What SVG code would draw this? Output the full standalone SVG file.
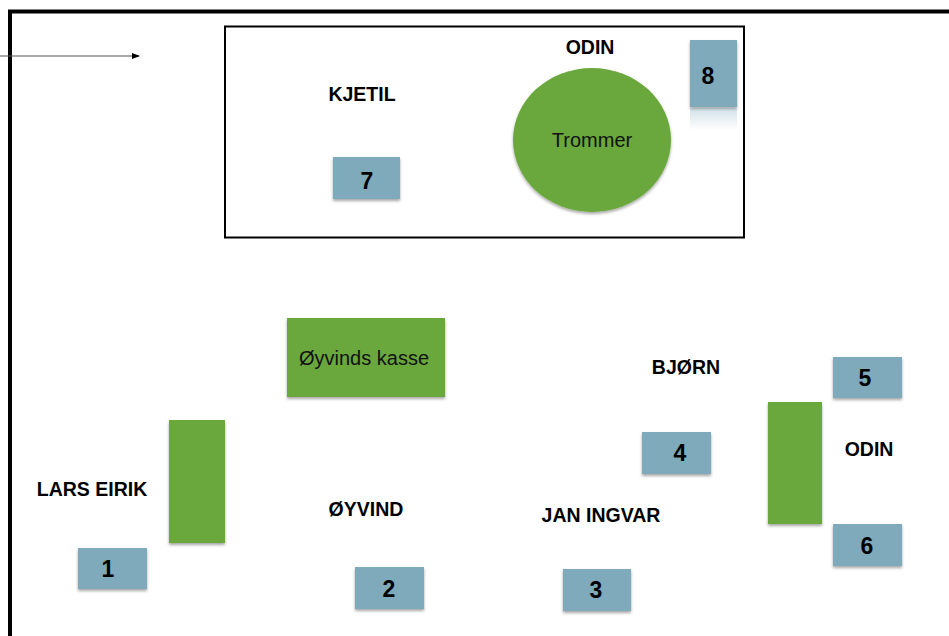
<svg xmlns="http://www.w3.org/2000/svg" width="949" height="636" viewBox="0 0 949 636">
<style>
.blue{fill:#7eaabb;filter:url(#sh)}
.green{fill:#6aa83c;filter:url(#sh)}
.num{font-family:"Liberation Sans",Arial,sans-serif;font-weight:bold;font-size:23px;fill:#000;text-anchor:middle}
.lbl{font-family:"Liberation Sans",Arial,sans-serif;font-weight:bold;font-size:19.5px;fill:#000;text-anchor:middle}
.gtx{font-family:"Liberation Sans",Arial,sans-serif;font-size:20px;fill:#111;text-anchor:middle}
</style>
<defs>
<filter id="sh" x="-20%" y="-20%" width="140%" height="150%">
<feDropShadow dx="0" dy="2" stdDeviation="1.5" flood-color="#000" flood-opacity="0.35"/>
</filter>
<linearGradient id="refl" x1="0" y1="0" x2="0" y2="1">
<stop offset="0" stop-color="#7eaabb" stop-opacity="0.35"/>
<stop offset="1" stop-color="#7eaabb" stop-opacity="0"/>
</linearGradient>
<marker id="ah" markerWidth="8" markerHeight="6" refX="7" refY="3" orient="auto" markerUnits="userSpaceOnUse">
<path d="M0,0 L8,3 L0,6 Z" fill="#000"/>
</marker>
</defs>
<rect width="949" height="636" fill="#fff"/>
<g id="frame">
<path d="M10,640 L10,11.5 L960,11.5" fill="none" stroke="#000" stroke-width="4"/>
</g>
<g id="stage">
<rect x="225" y="26.5" width="519" height="211" fill="none" stroke="#000" stroke-width="2"/>
</g>
<g id="connectors">
<line x1="0" y1="56" x2="139" y2="56" stroke="#555" stroke-width="1.2" marker-end="url(#ah)"/>
</g>
<g id="trommer">
<ellipse class="green" cx="592" cy="140" rx="79" ry="72"/>
<text class="gtx" x="592" y="147">Trommer</text>
</g>
<g id="kasse">
<rect class="green" x="287" y="318" width="158" height="79"/>
<text class="gtx" x="364" y="365">Øyvinds kasse</text>
</g>
<g id="green-left"><rect class="green" x="169" y="420" width="56" height="123"/></g>
<g id="green-right"><rect class="green" x="768" y="402" width="54" height="122"/></g>
<g id="n8">
<rect class="blue" x="690" y="40" width="47" height="67"/>
<rect x="690" y="108" width="47" height="22" fill="url(#refl)"/>
<text class="num" x="708" y="84">8</text>
</g>
<g id="n7"><rect class="blue" x="333" y="157" width="67" height="42"/><text class="num" x="367" y="189">7</text></g>
<g id="n1"><rect class="blue" x="78" y="548" width="69" height="41"/><text class="num" x="108" y="577">1</text></g>
<g id="n2"><rect class="blue" x="355" y="567" width="69" height="42"/><text class="num" x="389" y="597">2</text></g>
<g id="n3"><rect class="blue" x="563" y="569" width="68" height="42"/><text class="num" x="596" y="598">3</text></g>
<g id="n4"><rect class="blue" x="642" y="432" width="69" height="42"/><text class="num" x="680" y="461">4</text></g>
<g id="n5"><rect class="blue" x="833" y="357" width="69" height="41"/><text class="num" x="865" y="386">5</text></g>
<g id="n6"><rect class="blue" x="833" y="524" width="69" height="42"/><text class="num" x="867" y="554">6</text></g>
<g id="labels">
<text class="lbl" x="590" y="54">ODIN</text>
<text class="lbl" x="362" y="101">KJETIL</text>
<text class="lbl" x="686" y="374">BJØRN</text>
<text class="lbl" x="869" y="456">ODIN</text>
<text class="lbl" x="92" y="496">LARS EIRIK</text>
<text class="lbl" x="366" y="516">ØYVIND</text>
<text class="lbl" x="601" y="522">JAN INGVAR</text>
</g>
</svg>
